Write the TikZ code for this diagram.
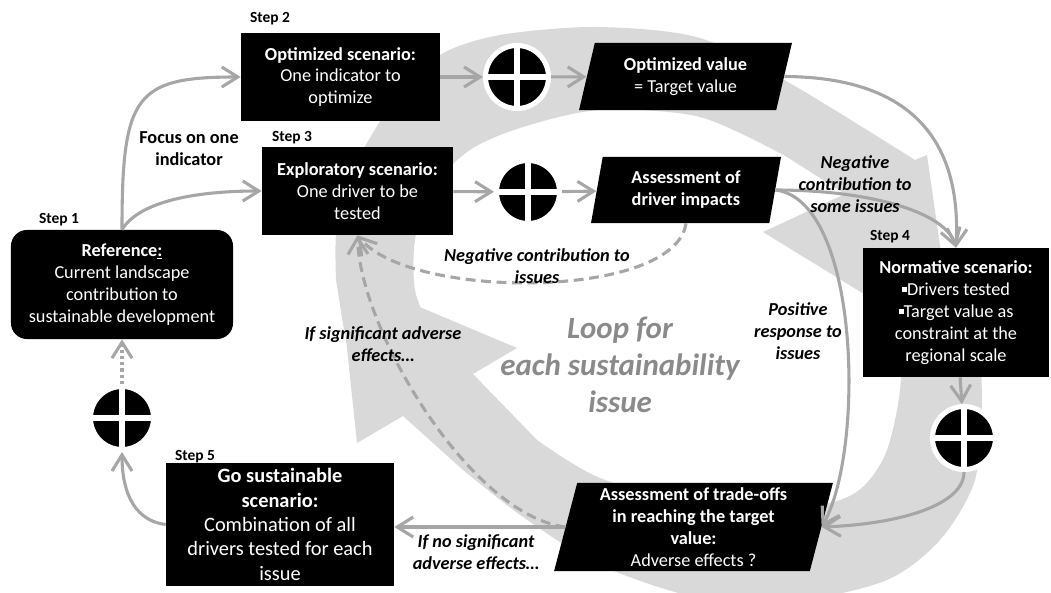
\documentclass[tikz,border=0pt]{standalone}
\usepackage{fontspec}
\setmainfont{Carlito}
\usepackage{xcolor}
\usepackage{tikz}
\usetikzlibrary{shapes.geometric,arrows.meta,backgrounds}

\definecolor{ringgray}{RGB}{217,217,217}
\definecolor{linkgray}{RGB}{166,166,166}
\definecolor{loopgray}{RGB}{138,138,138}
\newcommand{\sqbul}{\rule[0.35ex]{0.28em}{0.28em}}

\tikzset{
  scen/.style={rectangle, fill=black, text=white, align=center, inner sep=1pt, font=\fontsize{13}{15.6}\selectfont},
  para/.style={trapezium, trapezium stretches=true, fill=black, text=white, align=center, inner sep=1pt, font=\fontsize{13}{15.6}\selectfont},
  mergept/.style={circle, fill=black, draw=white, line width=3.6pt, minimum size=1.575cm, inner sep=0pt,
    path picture={\draw[white, line width=3.6pt] (path picture bounding box.north) -- (path picture bounding box.south)
      (path picture bounding box.west) -- (path picture bounding box.east);}},
  steplbl/.style={font=\bfseries\fontsize{11}{13}\selectfont},
  edgelbl/.style={align=center, font=\bfseries\itshape\fontsize{13}{15.6}\selectfont},
  link/.style={draw=linkgray, line width=2.2pt, -{Straight Barb[length=4mm,width=5mm]}},
  dashlink/.style={link, dash pattern=on 7pt off 4pt},
  dotlink/.style={link, dash pattern=on 2.2pt off 2.2pt}
}

\begin{document}
\begin{tikzpicture}[x=0.025cm, y=-0.025cm]
\useasboundingbox (0,0) rectangle (1051,592);

\node at (122,284.5) [scen, rounded corners=0.4cm, minimum width=5.55cm, minimum height=2.725cm] (ref) {\textbf{Reference\underline{:}}\\Current landscape\\contribution to\\sustainable development};
\node at (340.5,77) [scen, minimum width=4.975cm, minimum height=2.2cm] (opt) {\textbf{Optimized scenario:}\\One indicator to\\optimize};
\node at (357.5,191) [scen, minimum width=4.775cm, minimum height=2.2cm] (expl) {\textbf{Exploratory scenario:}\\One driver to be\\tested};
\node at (517,77) [mergept] (mtop) {};
\node at (528,192) [mergept] (mmid) {};
\node at (685.5,76.5) [para, trapezium left angle=75, trapezium right angle=105, minimum width=5.325cm, minimum height=1.675cm] (optval) {\textbf{Optimized value}\\= Target value};
\node at (686,190) [para, trapezium left angle=79, trapezium right angle=101, minimum width=4.75cm, minimum height=1.65cm] (impact) {\textbf{Assessment of}\\\textbf{driver impacts}};
\node at (956,312.5) [scen, minimum width=4.65cm, minimum height=3.225cm] (norm) {\textbf{Normative scenario:}\\\sqbul Drivers tested\\\sqbul Target value as\\constraint at the\\regional scale};
\node at (964,438) [mergept] (mright) {};
\node at (693.5,527) [para, trapezium left angle=77, trapezium right angle=103, minimum width=6.975cm, minimum height=2.2cm] (tradeoff) {\textbf{Assessment of trade-offs}\\\textbf{in reaching the target}\\\textbf{value:}\\Adverse effects ?};
\node at (280,524.5) [scen, font=\fontsize{14.5}{17.3}\selectfont, minimum width=5.7cm, minimum height=3.075cm] (gosus) {\textbf{Go sustainable}\\\textbf{scenario:}\\Combination of all\\drivers tested for each\\issue};
\node at (122,418) [mergept] (mleft) {};

\begin{scope}[on background layer]
\fill[ringgray] (344,330) -- plot[smooth] coordinates {(336,280) (336,235) (345,190) (363,150) (395,100) (440,55) (500,35) (597,27) (700,38) (793,85) (915,160)}
  -- (927,155) -- (955,350) -- (763,232) -- (845,194)
  -- plot[smooth] coordinates {(787,157) (700,117) (600,110) (523,127) (470,150) (430,190) (415,240) (415,290) (430,330)} -- cycle;
\fill[ringgray] (403,416) -- (357,443) -- (339,273) -- (517,348) -- (473,374)
  -- plot[smooth] coordinates {(537,440) (600,478) (700,505) (800,508) (855,493) (885,455) (900,390) (903,300)}
  -- (980,300) -- plot[smooth] coordinates {(982,400) (975,480) (940,540) (887,580) (800,600) (700,598) (600,565) (523,517) (463,470)} -- cycle;
\end{scope}

\draw[link] (ref.north) .. controls (122,95) and (135,77) .. (opt.west);
\draw[link] (ref.north) .. controls (140,200) and (200,191) .. (expl.west);
\draw (opt)[link] -- (mtop);
\draw (mtop)[link] -- (optval);
\draw (expl)[link] -- (mmid);
\draw (mmid)[link] -- (impact);
\draw[link] (optval.east) .. controls (900,77) and (962,130) .. (norm.north);
\draw[link] (impact.east) .. controls (870,190) and (945,212) .. (norm.north);
\draw[link] (impact.east) .. controls (860,200) and (865,450) .. (tradeoff.east);
\draw (norm)[link] -- (mright);
\draw[link] (mright.south) .. controls (964,505) and (900,524) .. (tradeoff.east);
\draw (tradeoff.west)[link] -- (tradeoff.west -| gosus.east);
\draw[dashlink] (tradeoff.west) .. controls (470,515) and (360,330) .. (expl.south);
\draw[dashlink] (impact.south) .. controls (675,300) and (410,300) .. (expl.south);
\draw[link] (gosus.west) .. controls (130,520) and (122,485) .. (mleft.south);
\draw (mleft)[dotlink] -- (ref);

\node at (59,220) [steplbl] (step1) {Step 1};
\node at (270,19) [steplbl] (step2) {Step 2};
\node at (292,138) [steplbl] (step3) {Step 3};
\node at (890,237) [steplbl] (step4) {Step 4};
\node at (195,457) [steplbl] (step5) {Step 5};

\node at (189,149) [align=center, font=\bfseries\fontsize{13}{15.6}\selectfont] (focus) {Focus on one\\indicator};
\node at (537,266) [edgelbl] (negiss) {Negative contribution to\\issues};
\node at (855,184) [edgelbl] (negsome) {Negative\\contribution to\\some issues};
\node at (798,331) [edgelbl] (posresp) {Positive\\response to\\issues};
\node at (383,344) [edgelbl] (sigadv) {If significant adverse\\effects…};
\node at (476,552) [edgelbl] (nosig) {If no significant\\adverse effects…};
\node at (620,365) [align=center, text=loopgray, font=\bfseries\itshape\fontsize{22}{26.3}\selectfont] (loop) {Loop for\\each sustainability\\issue};
\end{tikzpicture}
\end{document}
